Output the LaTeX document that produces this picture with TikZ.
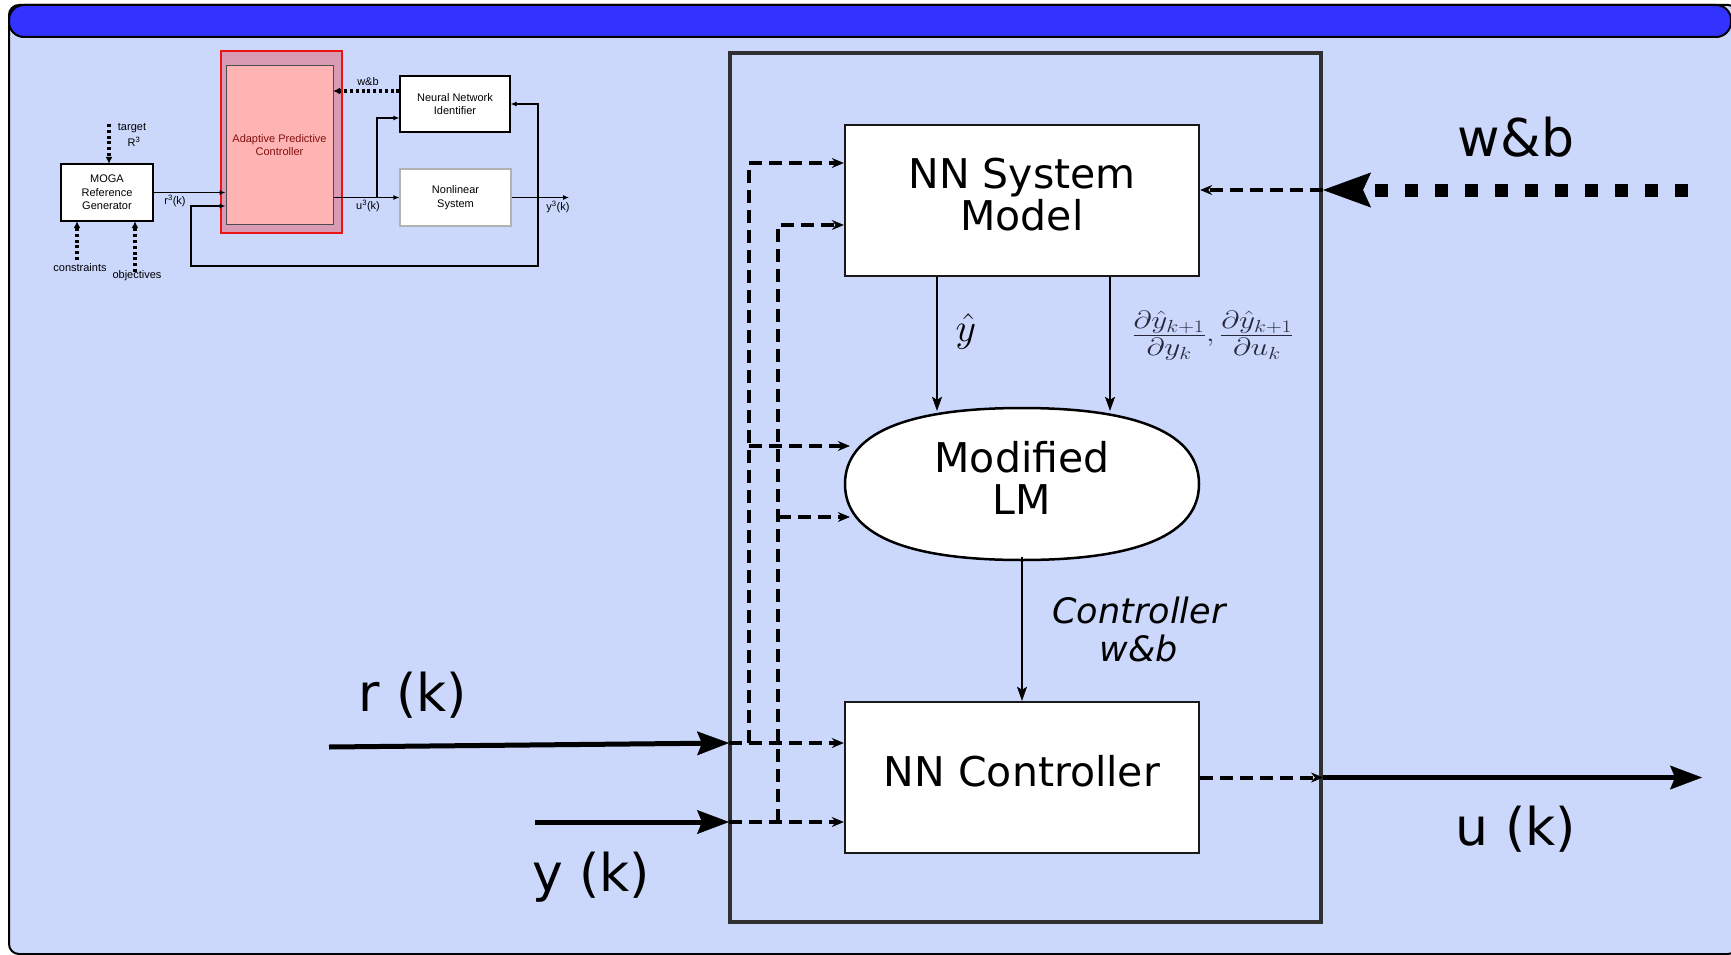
\RequirePackage{fix-cm}
\documentclass[tikz,border=0pt]{standalone}
\usepackage{graphicx}
\usepackage[no-math]{fontspec}
\setmainfont{DejaVu Sans}
\newfontfamily\diagfont{Liberation Sans}
\usetikzlibrary{arrows.meta}

\definecolor{panelfill}{RGB}{203,216,252}
\definecolor{titlefill}{RGB}{51,51,255}
\definecolor{framegray}{RGB}{48,48,48}
\definecolor{apcouter}{RGB}{217,155,180}
\definecolor{apcinner}{RGB}{255,180,180}
\definecolor{apcred}{RGB}{235,20,20}
\definecolor{apctext}{RGB}{130,15,15}
\definecolor{mathgray}{RGB}{40,40,60}

% partial-derivative fraction with a little air around the bar
\newcommand{\pdfrac}[2]{\frac{\textstyle #1\rule[-0.22em]{0pt}{0pt}}{\textstyle\rule{0pt}{0.8em}#2}}

\tikzset{
  bigbox/.style={draw=black!90, line width=2.5pt, fill=white, inner sep=0pt,
    minimum width=354pt, minimum height=151pt},
  boxtext/.style={inner sep=0pt, align=center, font=\fontsize{41}{42}\selectfont},
  bus/.style={line width=4pt, dash pattern=on 13pt off 7pt},
  bustip/.style={-{Stealth[length=12pt,width=10pt,inset=4pt,line width=0.5pt]}},
  flow/.style={line width=2pt, -{Stealth[length=14pt,width=10pt,inset=3pt,line width=0.5pt]}},
  heavy/.style={line width=5pt, -{Stealth[length=32pt,width=24pt,inset=5pt,line width=0.5pt]}},
  biglabel/.style={anchor=base, inner sep=0pt, font=\fontsize{52}{54}\selectfont},
  smallbox/.style={draw=black, line width=1.1pt, fill=white, inner sep=0pt, align=center,
    font=\diagfont\fontsize{11}{13.7}\selectfont},
  smallwire/.style={line width=1.1pt, -{Latex[length=6pt,width=5pt]}},
  smalldots/.style={line width=3.2pt, dash pattern=on 3pt off 2.8pt,
    -{Latex[length=6.5pt,width=6.5pt,line width=0.5pt]}},
  smalltext/.style={font=\diagfont\fontsize{11}{13}\selectfont, inner sep=0pt},
}

\begin{document}
\begin{tikzpicture}[x=1pt,y=-1pt]
\useasboundingbox (0,0) rectangle (1731,955);

% panel and title bar
\draw[fill=panelfill, line width=2pt, rounded corners=10pt] (9,5) rectangle (1738,954);
\draw[fill=titlefill, line width=2pt, rounded corners=15pt] (9,5) rectangle (1731,37);

% ---------------- overview block diagram (top left) ----------------
\node[smallbox, minimum width=92pt, minimum height=57pt] (moga) at (107,192.5) {MOGA\\Reference\\Generator};
\node[draw=apcred, line width=2pt, fill=apcouter, minimum width=121pt, minimum height=182pt, inner sep=0pt] (apcframe) at (281.5,142) {};
\node[draw=black!70, line width=1pt, fill=apcinner, minimum width=107pt, minimum height=158pt,
      inner sep=0pt, align=center, text=apctext, font=\diagfont\fontsize{11}{13.7}\selectfont] (apc) at (279.5,145) {Adaptive Predictive\\Controller};
\node[smallbox, minimum width=110pt, minimum height=56pt] (nnid) at (455,104) {Neural Network\\Identifier};
\node[smallbox, draw=black!30, minimum width=111pt, minimum height=57pt] (plant) at (455.5,197.5) {Nonlinear\\System};

\coordinate (ubr) at (377,197.5);
\coordinate (ubt) at (377,118);
\coordinate (ybr) at (538,197.5);
\coordinate (yout) at (569,197.5);
\coordinate (fb1) at (538,266);
\coordinate (fb2) at (191,266);
\coordinate (fb3) at (191,206);
\coordinate (wbs) at ([yshift=13pt]nnid.west);
\coordinate (tgt) at (109,124);
\coordinate (cst) at (77,260);
\coordinate (obj) at (135,272);

\draw[smallwire] (moga.east) -- (moga.east -| apc.west);
\draw[smallwire] (plant.west -| apc.east) -- (plant.west);
\draw[smallwire] (ubr) -- (ubt) -- (ubt -| nnid.west);
\draw[smallwire] (plant.east) -- (yout);
\draw[smallwire] (ybr) |- (nnid.east);
\draw[smallwire] (ybr) -- (fb1) -- (fb2) -- (fb3) -- (fb3 -| apc.west);
\draw[smalldots] (wbs) -- (wbs -| apc.east);
\draw[smalldots] (tgt) -- (tgt |- moga.north);
\draw[smalldots] (cst) -- (cst |- moga.south);
\draw[smalldots] (obj) -- (obj |- moga.south);

\node[smalltext] (tgtlbl) at (132,128) {target};
\node[smalltext] (r3lbl) at (134,142) {R\textsuperscript{3}};
\node[smalltext] (cstlbl) at (80,268) {constraints};
\node[smalltext] (objlbl) at (137,276) {objectives};
\node[smalltext] (rklbl) at (175,201) {r\textsuperscript{3}(k)};
\node[smalltext] (uklbl) at (368,206) {u\textsuperscript{3}(k)};
\node[smalltext] (yklbl) at (558,207) {y\textsuperscript{3}(k)};
\node[smalltext] (wblbl) at (368,82) {w\&b};

% ---------------- controller detail (right) ----------------
\node[draw=framegray, line width=4pt, minimum width=591pt, minimum height=869pt, inner sep=0pt] (core) at (1025.5,487.5) {};

\node[bigbox] (sysmodel) at (1022,200.5) {};
\node[boxtext] (sysmodeltxt) at ([yshift=6pt]sysmodel.center) {NN System\\Model};
\node[bigbox] (ctrl) at (1022,777.5) {};
\node[boxtext] (ctrltxt) at ([yshift=6pt]ctrl.center) {NN Controller};

% Modified LM: squarish ellipse
\draw[line width=2.5pt, fill=white]
  (1199,484) .. controls (1199,434) and (1139,408) .. (1022,408)
             .. controls (905,408) and (845,434) .. (845,484)
             .. controls (845,534) and (905,560) .. (1022,560)
             .. controls (1139,560) and (1199,534) .. (1199,484) -- cycle;
\node[minimum width=354pt, minimum height=146pt, inner sep=0pt] (lm) at (1022,484) {};
\node[boxtext] (lmtxt) at ([yshift=6pt]lm.center) {Modified\\LM};

% junction points of the signal bus
\coordinate (rj) at (729,743);
\coordinate (yj) at (729,822);
\coordinate (b1) at (749,743);
\coordinate (b1top) at (749,163);
\coordinate (b2) at (778,822);
\coordinate (b2top) at (778,225);
\coordinate (l1) at (749,446);
\coordinate (l2) at (778,517);
\coordinate (lmin) at ([xshift=5pt]lm.west);
\coordinate (rin) at (329,747);
\coordinate (yin) at (535,822);
\coordinate (uj) at (core.east |- ctrl.east);
\coordinate (uend) at (1702,777.5);
\coordinate (wbin) at (1688,190);
\coordinate (wbj) at (core.east |- wbin);

% dashed signal bus
\draw[bus, bustip] (rj) -- (rj -| ctrl.west);
\draw[bus, bustip] (yj) -- (yj -| ctrl.west);
\draw[bus, bustip] (b1) -- (b1top) -- (b1top -| sysmodel.west);
\draw[bus, bustip] (b2) -- (b2top) -- (b2top -| sysmodel.west);
\draw[bus, bustip] (l1) -- (lmin |- l1);
\draw[bus, bustip] (l2) -- (lmin |- l2);
\draw[bus, bustip] (ctrl.east) -- (uj);
\draw[bus, bustip] (wbj) -- (wbj -| sysmodel.east);

% internal signal flow
\draw[flow] ([xshift=-85pt]sysmodel.south) -- ([xshift=-85pt]lm.north);
\draw[flow] ([xshift=88pt]sysmodel.south) -- ([xshift=88pt]lm.north);
\draw[flow] (lm.south) -- (ctrl.north);

% external signals
\draw[heavy] (rin) -- (rj);
\draw[heavy] (yin) -- (yj);
\draw[heavy] (uj) -- (uend);
\draw[line width=13pt, dash pattern=on 13pt off 17pt,
      -{Stealth[length=48pt,width=35pt,inset=8pt,line width=0.5pt]}] (wbin) -- (wbj);

% labels
\node[font=\fontsize{40}{46}\selectfont] (yhat) at (966,331) {$\hat{y}$};
\node[text=mathgray, font=\fontsize{25}{30}\selectfont] (derivs) at (1213,336)
  {\scalebox{1.25}[1]{$\pdfrac{\partial\hat{y}_{k+1}}{\partial y_k},\pdfrac{\partial\hat{y}_{k+1}}{\partial u_k}$}};
\node[align=center, font=\itshape\fontsize{35}{38}\selectfont] (cwb) at (1139,629) {Controller\\w\&b};
\node[biglabel] (rk) at (413,711) {r (k)};
\node[biglabel] (yk) at (591,891) {y (k)};
\node[biglabel] (uk) at (1516,845) {u (k)};
\node[biglabel] (wb) at (1516,157) {w\&b};
\end{tikzpicture}
\end{document}
